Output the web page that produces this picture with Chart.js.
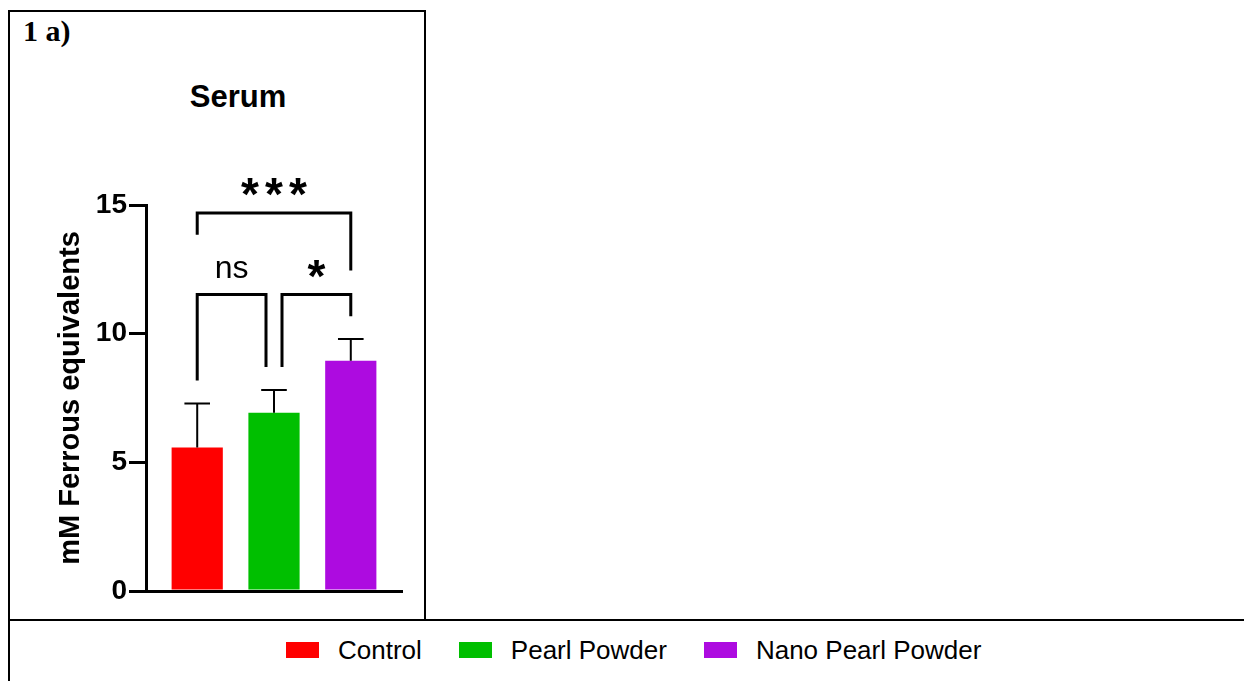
<!DOCTYPE html>
<html>
<head>
<meta charset="utf-8">
<title>Serum – mM Ferrous equivalents</title>
<script src="https://cdn.jsdelivr.net/npm/chart.js@4.4.1/dist/chart.umd.min.js"></script>
<style>
    html, body { margin: 0; padding: 0; background: #fff; }
    body { width: 1244px; height: 681px; position: relative; overflow: hidden;
           font-family: 'Liberation Sans', Arial, sans-serif; color: #000; }
    .rule { position: absolute; background: #000; }
    #panel-label { position: absolute; left: 23px; top: 16px;
                   font: bold 30px/30px 'Liberation Serif', 'Times New Roman', serif; }
    #chart-title { position: absolute; left: 138px; width: 200px; top: 81px; text-align: center;
                   font: bold 31px/31px 'Liberation Sans', Arial, sans-serif; }
    #chart-serum { position: absolute; left: 10px; top: 12px; }
    #legend { position: absolute; left: 286px; top: 637px; height: 26px; display: flex; align-items: center;
              font: 26px/26px 'Liberation Sans', Arial, sans-serif; white-space: nowrap; }
    .lg-item { display: flex; align-items: center; margin-right: 37px; }
    .lg-box { width: 33px; height: 16px; margin-right: 19px; }
</style>
</head>
<body>
<!-- table frame -->
<div class="rule" style="left:8px;top:10px;width:2px;height:671px"></div>
<div class="rule" style="left:8px;top:10px;width:418px;height:2px"></div>
<div class="rule" style="left:424px;top:10px;width:2px;height:611px"></div>
<div class="rule" style="left:8px;top:619px;width:1236px;height:2px"></div>

<div id="panel-label">1 a)</div>
<div id="chart-title">Serum</div>
<canvas id="chart-serum" width="414" height="607"></canvas>
<div id="legend"></div>

<script>
// ── Data ─────────────────────────────────────────────────
const groups    = ['Control', 'Pearl Powder', 'Nano Pearl Powder'];
const means     = [5.58, 6.93, 8.95];
const sds       = [1.71, 0.88, 0.84];
const barColors = ['#FF0000', '#00BF00', '#AD0BE0'];
const yTicks    = [0, 5, 10, 15];

// significance comparisons (group indices, bracket height, leg ends)
const sigPairs   = [[0, 2], [0, 1], [1, 2]];
const sigLabels  = ['***', 'ns', '*'];
const sigHeights = [14.69, 11.52, 11.52];
const sigLegEnds = [[13.84, 12.45], [8.18, 8.70], [8.70, 10.68]];

// ── Error bars (mean + SD, upper only) ───────────────────
const errorBars = {
    id: 'errorBars',
    afterDatasetsDraw(chart, args, opts) {
        const { ctx, scales: { y } } = chart;
        ctx.save();
        ctx.strokeStyle = opts.color;
        ctx.lineWidth   = opts.width;
        chart.data.datasets.forEach((ds, i) => {
            const bar = chart.getDatasetMeta(i).data[0];
            if (!bar) return;
            const top  = y.getPixelForValue(means[i] + sds[i]);
            const half = bar.width * opts.capRatio / 2;
            ctx.beginPath();
            ctx.moveTo(bar.x, bar.y);
            ctx.lineTo(bar.x, top);
            ctx.moveTo(bar.x - half, top);
            ctx.lineTo(bar.x + half, top);
            ctx.stroke();
        });
        ctx.restore();
    }
};

// ── Significance brackets ────────────────────────────────
const sigBrackets = {
    id: 'sigBrackets',
    afterDatasetsDraw(chart, args, opts) {
        const { ctx, scales: { x, y } } = chart;
        ctx.save();
        ctx.strokeStyle = opts.color;
        ctx.fillStyle   = opts.color;
        ctx.lineWidth   = opts.width;
        ctx.lineJoin    = 'miter';

        sigPairs.forEach(([a, b], k) => {
            // two brackets meeting on the same bar at the same height get their legs nudged apart
            const shared = idx => sigPairs.some(([c, d], m) =>
                m !== k && sigHeights[m] === sigHeights[k] && (c === idx || d === idx));
            const xa = x.getPixelForValue(a) + (shared(a) ? opts.legGap : 0);
            const xb = x.getPixelForValue(b) - (shared(b) ? opts.legGap : 0);
            const yb = y.getPixelForValue(sigHeights[k]);

            ctx.beginPath();
            ctx.moveTo(xa, y.getPixelForValue(sigLegEnds[k][0]));
            ctx.lineTo(xa, yb);
            ctx.lineTo(xb, yb);
            ctx.lineTo(xb, y.getPixelForValue(sigLegEnds[k][1]));
            ctx.stroke();

            const label  = sigLabels[k];
            const stars  = /^\*+$/.test(label);
            const cx     = (xa + xb) / 2;
            const bottom = yb - opts.labelGap;
            ctx.textAlign    = 'center';
            ctx.textBaseline = 'alphabetic';
            if (stars) {
                ctx.font = opts.starFont;
                const m = ctx.measureText('*');
                const base = bottom - m.actualBoundingBoxDescent;
                const n = label.length;
                for (let i = 0; i < n; i++) {
                    ctx.fillText('*', cx + (i - (n - 1) / 2) * opts.starStep, base);
                }
            } else {
                ctx.font = opts.font;
                const m = ctx.measureText(label);
                ctx.fillText(label, cx, bottom - m.actualBoundingBoxDescent);
            }
        });
        ctx.restore();
    }
};

document.addEventListener('DOMContentLoaded', () => {
    const ctx = document.getElementById('chart-serum').getContext('2d');

    // group axis runs a little past the outer bars on both sides
    const xMin = -0.667;
    const xMax = groups.length - 1 + 0.667;

    const chart = new Chart(ctx, {
        type: 'bar',
        data: {
            datasets: groups.map((g, i) => ({
                label:           g,
                data:            [{ x: i, y: means[i] }],
                backgroundColor: barColors[i],
                borderWidth:     0,
                grouped:         false,
                categoryPercentage: 1,
                barPercentage:   0.667
            }))
        },
        options: {
            responsive: false,
            animation:  false,
            layout: { padding: { top: 193, right: 22, bottom: 0, left: 0 } },
            plugins: {
                legend:  { display: false },
                tooltip: { enabled: false },
                errorBars:   { color: '#000', width: 2, capRatio: 0.5 },
                sigBrackets: {
                    color: '#000', width: 3, legGap: 8, labelGap: 16.5, starStep: 24,
                    font:     "32px 'Liberation Sans', Arial, sans-serif",
                    starFont: "bold 46px 'Liberation Sans', Arial, sans-serif"
                }
            },
            scales: {
                x: {
                    type:   'linear',
                    offset: false,
                    min:    xMin,
                    max:    xMax,
                    afterDataLimits: s => { s.min = xMin; s.max = xMax; },
                    afterBuildTicks: s => { s.ticks = groups.map((g, i) => ({ value: i })); },
                    afterFit: s => { s.height = 28; },
                    ticks:  { display: false },
                    grid:   { display: false, offset: false },
                    border: { display: true, color: '#000', width: 3 }
                },
                y: {
                    min: 0,
                    max: 15,
                    afterBuildTicks: s => { s.ticks = yTicks.map(v => ({ value: v })); },
                    afterFit: s => { s.width = 136; },
                    ticks: {
                        color:   '#000',
                        padding: 2,
                        font:    { family: "'Liberation Sans', Arial, sans-serif", size: 28, weight: 'bold' }
                    },
                    grid: {
                        display: true, drawOnChartArea: false, drawTicks: true,
                        tickLength: 17, color: '#000', lineWidth: 3
                    },
                    border: { display: true, color: '#000', width: 3 },
                    title: {
                        display: true,
                        text:    'mM Ferrous equivalents',
                        color:   '#000',
                        padding: { top: 44, bottom: 0 },
                        font:    { family: "'Liberation Sans', Arial, sans-serif", size: 29, weight: 'bold' }
                    }
                }
            }
        },
        plugins: [errorBars, sigBrackets]
    });

    // ── Legend (bottom row) ──────────────────────────────────
    document.getElementById('legend').innerHTML = chart.data.datasets.map(ds =>
        `<span class="lg-item"><span class="lg-box" style="background:${ds.backgroundColor}"></span>${ds.label}</span>`
    ).join('');
});
</script>
</body>
</html>
